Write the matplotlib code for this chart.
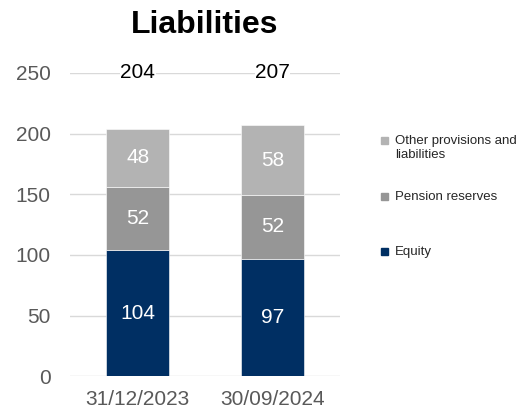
import matplotlib.pyplot as plt
import matplotlib.patches as mpatches
import numpy as np

plt.rcParams['font.family'] = ['Liberation Sans', 'DejaVu Sans']

dates = ['31/12/2023', '30/09/2024']
equity = [104, 97]
pension = [52, 52]
other = [48, 58]
series = ['Equity', 'Pension reserves', 'Other provisions and\nliabilities']
colors = ['#002F63', '#969696', '#B3B3B3']

W, H = 520, 412
fig = plt.figure(figsize=(W / 100, H / 100), dpi=100)
ax = fig.add_axes([0.135, 0.087, 0.519, 0.736])

x = np.arange(len(dates))
width = 0.47
bottom = np.zeros(len(dates))
for vals, col, name in zip([equity, pension, other], colors, series):
    ax.bar(x, vals, width, bottom=bottom, color=col, edgecolor='white',
           linewidth=0.4, zorder=3, label=name)
    for xi, b, v in zip(x, bottom, vals):
        ax.text(xi, b + v / 2, str(v), ha='center', va='center',
                color='white', fontsize=15, zorder=4)
    bottom = bottom + np.array(vals)

# totals above the stacks
for xi, tot in zip(x, bottom):
    ax.text(xi, 250, f'{int(tot)}', ha='center', va='center', fontsize=15,
            color='black', zorder=4,
            bbox=dict(facecolor='white', edgecolor='none', pad=0.3))

ax.set_xlim(-0.5, 1.5)
ax.set_ylim(0, 250)
ax.set_yticks(range(0, 251, 50))
ax.set_xticks(x)
ax.set_xticklabels(dates)
ax.grid(axis='y', color='#D9D9D9', linewidth=1, zorder=0)
for s in ax.spines.values():
    s.set_visible(False)
ax.tick_params(length=0, labelsize=15, labelcolor='#595959')
ax.tick_params(axis='y', pad=14)
ax.tick_params(axis='x', pad=10)

fig.text(0.393, 0.94, 'Liabilities', ha='center', va='center',
         fontsize=23, fontweight='bold')

# legend, drawn by hand for the uneven spacing
legend_rows = [(series[2], colors[2], 140), (series[1], colors[1], 196),
               (series[0], colors[0], 251)]
sq = 7
for name, col, yp in legend_rows:
    fig.add_artist(mpatches.Rectangle((381 / W, 1 - (yp + sq / 2) / H), sq / W, sq / H,
                                      transform=fig.transFigure, color=col))
    fig.text(395 / W, 1 - (yp - 5) / H, name, ha='left', va='top',
             fontsize=9.5, color='#262626', linespacing=1.25)

fig.savefig('out.png', dpi=100)
